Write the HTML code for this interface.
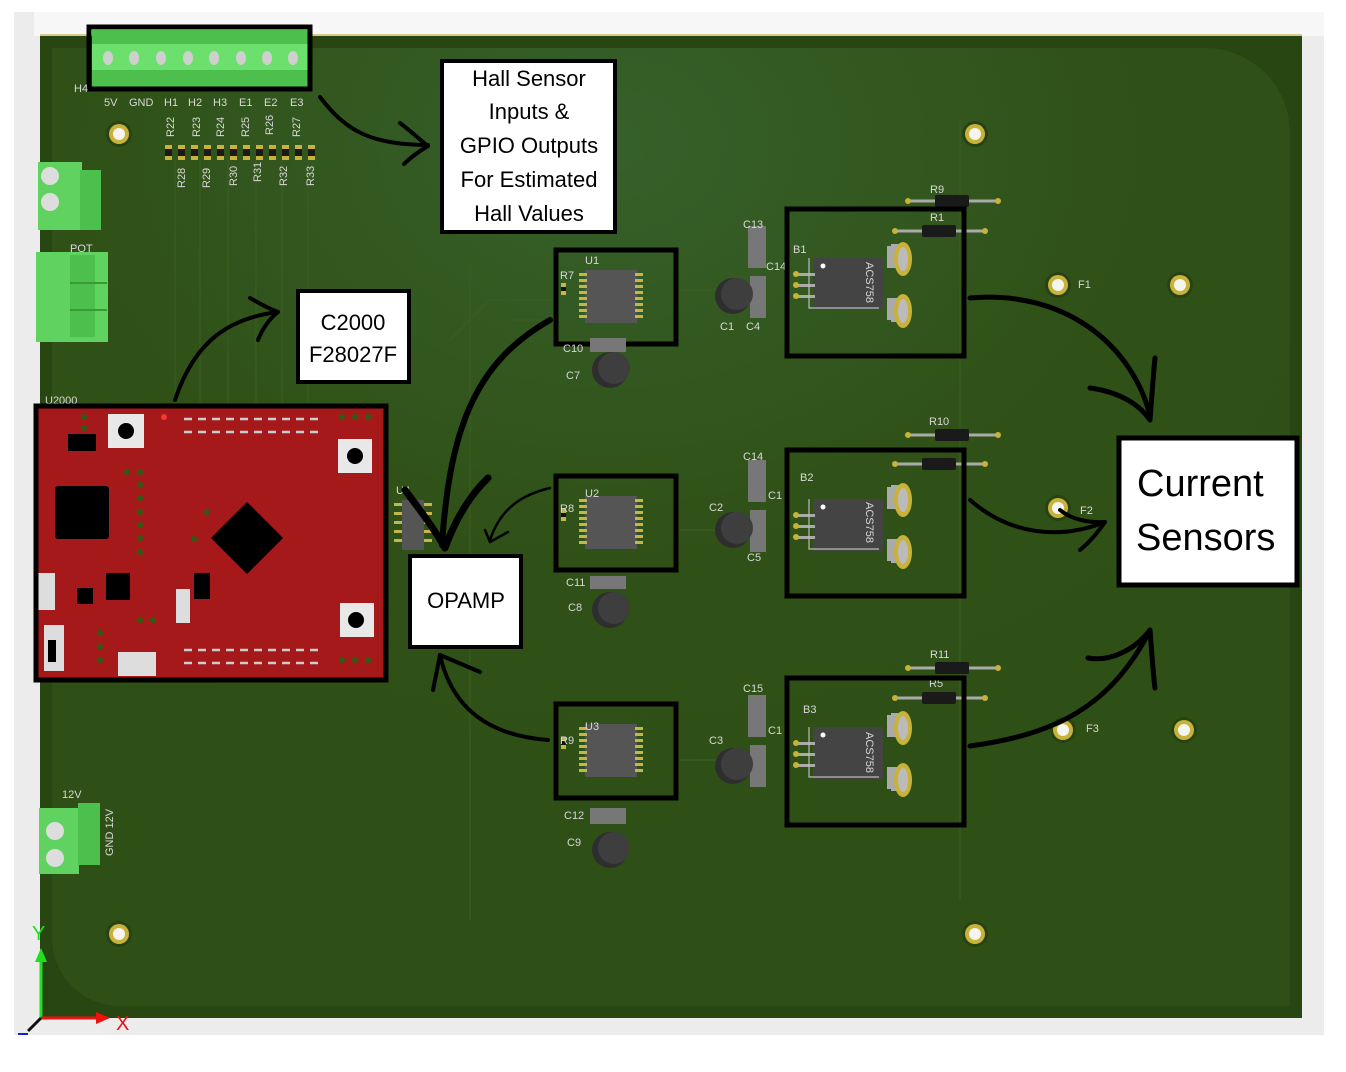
<!DOCTYPE html>
<html><head><meta charset="utf-8"><style>
html,body{margin:0;padding:0;background:#fff;}
svg{display:block;}
text{font-family:"Liberation Sans",sans-serif;}
.s{fill:#d8d8d8;font-size:11px;}
.b{fill:#000;}
</style></head><body>
<svg width="1346" height="1072" viewBox="0 0 1346 1072" xmlns="http://www.w3.org/2000/svg">
<defs>
<radialGradient id="bg" cx="0.45" cy="0.1" r="0.9">
<stop offset="0" stop-color="#36602a"/><stop offset="0.5" stop-color="#2f5016"/><stop offset="1" stop-color="#2e4f15"/>
</radialGradient>
<g id="hole"><circle r="13" fill="#284313"/><circle r="10" fill="#c9b23a"/><circle r="6" fill="#f4f4f0"/></g>
<g id="ic">
<rect x="30" y="21" width="52" height="53" fill="#555"/>
<g fill="#c8b54a">
<rect x="24" y="24" width="8" height="3"/><rect x="24" y="30" width="8" height="3"/><rect x="24" y="36" width="8" height="3"/><rect x="24" y="42" width="8" height="3"/><rect x="24" y="48" width="8" height="3"/><rect x="24" y="54" width="8" height="3"/><rect x="24" y="60" width="8" height="3"/><rect x="24" y="66" width="8" height="3"/>
<rect x="80" y="24" width="8" height="3"/><rect x="80" y="30" width="8" height="3"/><rect x="80" y="36" width="8" height="3"/><rect x="80" y="42" width="8" height="3"/><rect x="80" y="48" width="8" height="3"/><rect x="80" y="54" width="8" height="3"/><rect x="80" y="60" width="8" height="3"/><rect x="80" y="66" width="8" height="3"/>
</g>
<rect x="6" y="34" width="5" height="12" fill="#c8b54a"/><rect x="6" y="38" width="5" height="4" fill="#111"/>
</g>
<g id="sens">
<path d="M100 38 h20 v22 h-20z M100 90 h20 v22 h-20z" fill="#aaa"/>
<rect x="104" y="36" width="14" height="10" fill="#aaa"/><rect x="104" y="104" width="14" height="10" fill="#aaa"/>
<ellipse cx="116" cy="51" rx="9" ry="17" fill="#c9b23a"/><ellipse cx="116" cy="51" rx="5" ry="12" fill="#bbb"/>
<ellipse cx="116" cy="103" rx="9" ry="17" fill="#c9b23a"/><ellipse cx="116" cy="103" rx="5" ry="12" fill="#bbb"/>
<rect x="26" y="50" width="70" height="52" fill="#444"/>
<rect x="8" y="65" width="20" height="3" fill="#aaa"/><rect x="8" y="76" width="20" height="3" fill="#aaa"/><rect x="8" y="87" width="20" height="3" fill="#aaa"/>
<circle cx="9" cy="66" r="3" fill="#c9b23a"/><circle cx="9" cy="77" r="3" fill="#c9b23a"/><circle cx="9" cy="88" r="3" fill="#c9b23a"/>
<circle cx="36" cy="58" r="2.5" fill="#fff"/>
<path d="M22 50 v50 h70" fill="none" stroke="#bbb" stroke-width="1.2"/>
</g>
<g id="res"><line x1="0" y1="0" x2="90" y2="0" stroke="#aaa" stroke-width="3"/><circle cx="0" cy="0" r="3" fill="#c9b23a"/><circle cx="90" cy="0" r="3" fill="#c9b23a"/><rect x="27" y="-6" width="34" height="12" rx="2" fill="#1a1a1a"/></g>
<g id="cyl"><circle cx="0" cy="0" r="18" fill="#2e2e2e"/><circle cx="4" cy="-2" r="16" fill="#3e3e3e"/></g>
</defs>

<!-- frame -->
<rect x="14" y="10" width="1310" height="1025" fill="#ececec"/>
<rect x="0" y="0" width="1346" height="12" fill="#fff"/>
<rect x="34" y="12" width="1290" height="24" fill="#f7f7f7"/>
<rect x="40" y="34" width="1262" height="2" fill="#d8c98a"/>
<!-- board -->
<rect x="40" y="36" width="1262" height="982" fill="#274612"/>
<path d="M52 48 H1205 A85 85 0 0 1 1290 133 V1006 H120 A68 68 0 0 1 52 938 Z" fill="url(#bg)"/>

<!-- traces (subtle) -->
<g stroke="#3a5e22" stroke-width="1.5" fill="none" opacity="0.8">
<path d="M175 160 V430 M200 160 V430 M228 160 V430 M256 160 V430 M282 160 V430 M308 160 V430"/>
<path d="M555 300 H490 L450 340 M555 320 H510 M680 290 H740 M680 530 H740 M680 760 H740"/>
<path d="M960 120 V900 M470 260 V920"/>
</g>

<!-- top header connector -->
<rect x="92" y="30" width="217" height="58" fill="#6ce06c"/>
<g fill="#4cbf4c">
<rect x="92" y="30" width="217" height="14"/><rect x="92" y="70" width="217" height="18"/>
</g>
<g fill="#cfcfcf">
<ellipse cx="108" cy="58" rx="5" ry="7"/><ellipse cx="134" cy="58" rx="5" ry="7"/><ellipse cx="161" cy="58" rx="5" ry="7"/><ellipse cx="188" cy="58" rx="5" ry="7"/><ellipse cx="214" cy="58" rx="5" ry="7"/><ellipse cx="241" cy="58" rx="5" ry="7"/><ellipse cx="267" cy="58" rx="5" ry="7"/><ellipse cx="293" cy="58" rx="5" ry="7"/>
</g>
<rect x="89" y="27" width="221" height="62" fill="none" stroke="#000" stroke-width="5"/>
<text x="74" y="92" class="s" font-size="10">H4</text>
<text x="104" y="106" class="s">5V</text><text x="129" y="106" class="s">GND</text><text x="164" y="106" class="s">H1</text><text x="188" y="106" class="s">H2</text><text x="213" y="106" class="s">H3</text><text x="239" y="106" class="s">E1</text><text x="264" y="106" class="s">E2</text><text x="290" y="106" class="s">E3</text>
<g class="s" font-size="10">
<text transform="translate(174,137) rotate(-90)">R22</text><text transform="translate(200,137) rotate(-90)">R23</text><text transform="translate(224,137) rotate(-90)">R24</text><text transform="translate(249,137) rotate(-90)">R25</text><text transform="translate(273,135) rotate(-90)">R26</text><text transform="translate(300,137) rotate(-90)">R27</text>
<text transform="translate(185,188) rotate(-90)">R28</text><text transform="translate(210,188) rotate(-90)">R29</text><text transform="translate(237,186) rotate(-90)">R30</text><text transform="translate(261,182) rotate(-90)">R31</text><text transform="translate(287,186) rotate(-90)">R32</text><text transform="translate(314,186) rotate(-90)">R33</text>
</g>
<g fill="#c9b23a">
<rect x="165" y="145" width="7" height="15"/><rect x="178" y="145" width="7" height="15"/><rect x="191" y="145" width="7" height="15"/><rect x="204" y="145" width="7" height="15"/><rect x="217" y="145" width="7" height="15"/><rect x="230" y="145" width="7" height="15"/><rect x="243" y="145" width="7" height="15"/><rect x="256" y="145" width="7" height="15"/><rect x="269" y="145" width="7" height="15"/><rect x="282" y="145" width="7" height="15"/><rect x="295" y="145" width="7" height="15"/><rect x="308" y="145" width="7" height="15"/>
</g>
<g fill="#1a1a1a">
<rect x="165" y="149" width="7" height="7"/><rect x="178" y="149" width="7" height="7"/><rect x="191" y="149" width="7" height="7"/><rect x="204" y="149" width="7" height="7"/><rect x="217" y="149" width="7" height="7"/><rect x="230" y="149" width="7" height="7"/><rect x="243" y="149" width="7" height="7"/><rect x="256" y="149" width="7" height="7"/><rect x="269" y="149" width="7" height="7"/><rect x="282" y="149" width="7" height="7"/><rect x="295" y="149" width="7" height="7"/><rect x="308" y="149" width="7" height="7"/>
</g>

<!-- left terminal blocks -->
<rect x="38" y="162" width="44" height="68" fill="#5fd25f"/><rect x="80" y="170" width="21" height="60" fill="#4cbf4c"/>
<circle cx="50" cy="176" r="9" fill="#ddd"/><circle cx="50" cy="202" r="9" fill="#ddd"/>
<text x="70" y="252" class="s">POT</text>
<rect x="36" y="252" width="72" height="90" fill="#5fd25f"/><rect x="70" y="255" width="25" height="82" fill="#4cbf4c"/>
<line x1="70" y1="283" x2="107" y2="283" stroke="#3a9a3a" stroke-width="2"/><line x1="70" y1="310" x2="107" y2="310" stroke="#3a9a3a" stroke-width="2"/>
<text x="62" y="798" class="s">12V</text>
<rect x="39" y="808" width="40" height="66" fill="#5fd25f"/><rect x="78" y="803" width="22" height="62" fill="#4cbf4c"/>
<circle cx="55" cy="831" r="9" fill="#ddd"/><circle cx="55" cy="858" r="9" fill="#ddd"/>
<text transform="translate(113,856) rotate(-90)" class="s" font-size="10">GND 12V</text>

<!-- holes -->
<use href="#hole" x="119" y="134"/><use href="#hole" x="975" y="134"/><use href="#hole" x="119" y="934"/><use href="#hole" x="975" y="934"/>
<use href="#hole" x="1058" y="285"/><use href="#hole" x="1180" y="285"/><use href="#hole" x="1058" y="508"/><use href="#hole" x="1063" y="730"/><use href="#hole" x="1184" y="730"/>
<text x="1078" y="288" class="s">F1</text><text x="1080" y="514" class="s">F2</text><text x="1086" y="732" class="s">F3</text>

<!-- red launchpad -->
<text x="45" y="404" class="s" font-size="10">U2000</text>
<rect x="36" y="406" width="350" height="274" fill="#a5191a"/>
<rect x="55" y="486" width="54" height="53" rx="3" fill="#000"/>
<rect x="68" y="434" width="28" height="17" fill="#000"/>
<rect x="108" y="414" width="36" height="34" fill="#e8e8e8"/><circle cx="126" cy="431" r="8" fill="#000"/>
<rect x="338" y="439" width="34" height="34" fill="#e8e8e8"/><circle cx="355" cy="456" r="8" fill="#000"/>
<rect x="340" y="603" width="34" height="34" fill="#e8e8e8"/><circle cx="356" cy="620" r="8" fill="#000"/>
<path d="M247 502 L283 538 L247 574 L211 538 Z" fill="#000"/>
<rect x="106" y="573" width="24" height="27" fill="#000"/><rect x="194" y="573" width="16" height="26" fill="#000"/><rect x="77" y="588" width="16" height="16" fill="#000"/>
<rect x="38" y="573" width="17" height="37" fill="#ddd"/><rect x="176" y="589" width="14" height="34" fill="#ddd"/>
<rect x="44" y="625" width="20" height="46" fill="#ddd"/><rect x="48" y="640" width="8" height="22" fill="#000"/>
<rect x="118" y="652" width="38" height="24" fill="#ddd"/>
<g stroke="#ccc" stroke-width="2.5" stroke-dasharray="8 6"><line x1="184" y1="419" x2="320" y2="419"/><line x1="184" y1="432" x2="320" y2="432"/><line x1="184" y1="650" x2="320" y2="650"/><line x1="184" y1="663" x2="320" y2="663"/></g>
<g fill="#2e5a14">
<circle cx="84" cy="417" r="3"/><circle cx="84" cy="428" r="3"/><circle cx="127" cy="472" r="3"/><circle cx="140" cy="472" r="3"/><circle cx="140" cy="485" r="3"/><circle cx="140" cy="498" r="3"/><circle cx="140" cy="512" r="3"/><circle cx="140" cy="525" r="3"/><circle cx="140" cy="538" r="3"/><circle cx="140" cy="552" r="3"/><circle cx="207" cy="512" r="3"/><circle cx="194" cy="539" r="3"/>
<circle cx="342" cy="417" r="3"/><circle cx="355" cy="417" r="3"/><circle cx="368" cy="417" r="3"/><circle cx="342" cy="660" r="3"/><circle cx="355" cy="660" r="3"/><circle cx="368" cy="660" r="3"/><circle cx="140" cy="620" r="3"/><circle cx="153" cy="620" r="3"/><circle cx="100" cy="633" r="3"/><circle cx="100" cy="647" r="3"/><circle cx="100" cy="660" r="3"/>
</g>
<circle cx="164" cy="417" r="3" fill="#f33"/>
<rect x="36" y="406" width="350" height="274" fill="none" stroke="#000" stroke-width="5"/>

<!-- U4 opamp -->
<text x="396" y="494" class="s" font-size="10">U4</text>
<rect x="402" y="500" width="22" height="50" fill="#555"/>
<g fill="#c8b54a"><rect x="394" y="503" width="8" height="3"/><rect x="394" y="512" width="8" height="3"/><rect x="394" y="521" width="8" height="3"/><rect x="394" y="530" width="8" height="3"/><rect x="394" y="539" width="8" height="3"/><rect x="424" y="503" width="8" height="3"/><rect x="424" y="512" width="8" height="3"/><rect x="424" y="521" width="8" height="3"/><rect x="424" y="530" width="8" height="3"/><rect x="424" y="539" width="8" height="3"/></g>

<!-- U blocks -->
<use href="#ic" x="555" y="249"/><use href="#ic" x="555" y="475"/><use href="#ic" x="555" y="703"/>
<text x="585" y="264" class="s">U1</text><text x="560" y="279" class="s">R7</text>
<text x="585" y="497" class="s">U2</text><text x="560" y="512" class="s">R8</text>
<text x="585" y="730" class="s">U3</text><text x="560" y="744" class="s">R9</text>
<g fill="none" stroke="#000" stroke-width="5"><rect x="556" y="250" width="120" height="94"/><rect x="556" y="476" width="120" height="94"/><rect x="556" y="704" width="120" height="94"/></g>
<rect x="590" y="338" width="36" height="14" fill="#777"/><use href="#cyl" x="610" y="370"/><text x="563" y="352" class="s">C10</text><text x="566" y="379" class="s">C7</text>
<rect x="590" y="576" width="36" height="13" fill="#777"/><use href="#cyl" x="610" y="610"/><text x="566" y="586" class="s">C11</text><text x="568" y="611" class="s">C8</text>
<rect x="590" y="808" width="36" height="16" fill="#777"/><use href="#cyl" x="610" y="850"/><text x="564" y="819" class="s">C12</text><text x="567" y="846" class="s">C9</text>

<!-- sensor blocks -->
<use href="#sens" x="787" y="208"/><use href="#sens" x="787" y="449"/><use href="#sens" x="787" y="677"/>
<g class="s" font-size="9" fill="#bbb"><text transform="translate(866,262) rotate(90)">ACS758</text><text transform="translate(866,502) rotate(90)">ACS758</text><text transform="translate(866,732) rotate(90)">ACS758</text></g>
<text x="793" y="253" class="s">B1</text><text x="800" y="481" class="s">B2</text><text x="803" y="713" class="s">B3</text>
<use href="#res" x="908" y="201"/><use href="#res" x="895" y="231"/><use href="#res" x="908" y="435"/><use href="#res" x="895" y="464"/><use href="#res" x="908" y="668"/><use href="#res" x="895" y="698"/>
<text x="930" y="193" class="s">R9</text><text x="930" y="221" class="s">R1</text><text x="929" y="425" class="s">R10</text><text x="930" y="658" class="s">R11</text><text x="929" y="687" class="s">R5</text>
<g fill="#777"><rect x="748" y="226" width="18" height="42"/><rect x="750" y="276" width="16" height="42"/><rect x="748" y="460" width="18" height="42"/><rect x="750" y="510" width="16" height="42"/><rect x="748" y="695" width="18" height="42"/><rect x="750" y="745" width="16" height="42"/></g>
<use href="#cyl" x="733" y="296"/><use href="#cyl" x="733" y="530"/><use href="#cyl" x="733" y="766"/>
<text x="743" y="228" class="s">C13</text><text x="766" y="270" class="s">C14</text><text x="720" y="330" class="s">C1</text><text x="746" y="330" class="s">C4</text>
<text x="743" y="460" class="s">C14</text><text x="768" y="499" class="s">C1</text><text x="709" y="511" class="s">C2</text><text x="747" y="561" class="s">C5</text>
<text x="743" y="692" class="s">C15</text><text x="768" y="734" class="s">C1</text><text x="709" y="744" class="s">C3</text>
<g fill="none" stroke="#000" stroke-width="5"><rect x="787" y="209" width="177" height="147"/><rect x="787" y="450" width="177" height="146"/><rect x="787" y="678" width="177" height="147"/></g>

<!-- arrows -->
<g fill="none" stroke="#000" stroke-linecap="round" stroke-linejoin="round">
<path d="M320 97 C345 130 370 145 428 145" stroke-width="4"/>
<path d="M400 123 C412 132 420 140 428 146 C418 152 410 158 404 164" stroke-width="4"/>
<path d="M175 400 C195 340 230 318 278 312" stroke-width="4"/>
<path d="M250 298 C262 305 270 309 278 312 C268 320 262 330 258 340" stroke-width="4"/>
<path d="M550 320 C480 360 450 420 442 545" stroke-width="6"/>
<path d="M405 490 C420 510 435 530 445 548 C455 520 470 495 488 478" stroke-width="7"/>
<path d="M550 488 C520 495 500 510 490 540" stroke-width="2.5"/>
<path d="M485 530 L490 542 L508 532" stroke-width="2.5"/>
<path d="M548 740 C480 735 450 700 440 655" stroke-width="4"/>
<path d="M433 690 L440 655 L480 672" stroke-width="4"/>
<path d="M970 298 C1060 290 1130 340 1150 415" stroke-width="5"/>
<path d="M1090 388 C1120 392 1140 405 1150 420 C1152 395 1153 378 1155 358" stroke-width="5"/>
<path d="M970 500 C1010 535 1060 540 1105 522" stroke-width="4"/>
<path d="M1060 510 C1072 520 1090 523 1105 522 C1098 532 1090 542 1080 550" stroke-width="4"/>
<path d="M970 746 C1050 735 1110 710 1150 630" stroke-width="5"/>
<path d="M1088 658 C1110 662 1135 650 1150 630 C1152 655 1153 672 1155 688" stroke-width="5"/>
</g>

<!-- label boxes -->
<rect x="442" y="61" width="173" height="171" fill="#fff" stroke="#000" stroke-width="4"/>
<g font-size="22" text-anchor="middle" class="b"><text x="529" y="86">Hall Sensor</text><text x="529" y="119">Inputs &amp;</text><text x="529" y="153">GPIO Outputs</text><text x="529" y="187">For Estimated</text><text x="529" y="221">Hall Values</text></g>
<rect x="298" y="291" width="111" height="91" fill="#fff" stroke="#000" stroke-width="4"/>
<g font-size="22" text-anchor="middle" class="b"><text x="353" y="330">C2000</text><text x="353" y="362">F28027F</text></g>
<rect x="410" y="556" width="111" height="91" fill="#fff" stroke="#000" stroke-width="4"/>
<text x="466" y="608" font-size="22" text-anchor="middle" class="b">OPAMP</text>
<rect x="1119" y="438" width="178" height="147" fill="#fff" stroke="#000" stroke-width="5"/>
<g font-size="38" class="b"><text x="1137" y="496">Current</text><text x="1136" y="550">Sensors</text></g>

<!-- axes -->
<line x1="41" y1="1018" x2="41" y2="960" stroke="#1ee01e" stroke-width="3"/><path d="M35 962 L41 948 L47 962Z" fill="#1ee01e"/>
<text x="32" y="940" font-size="20" fill="#1ee01e">Y</text>
<line x1="41" y1="1018" x2="98" y2="1018" stroke="#f01010" stroke-width="3"/><path d="M96 1012 L110 1018 L96 1024Z" fill="#f01010"/>
<text x="116" y="1030" font-size="20" fill="#f01010">X</text>
<line x1="41" y1="1018" x2="28" y2="1031" stroke="#111" stroke-width="3"/><line x1="18" y1="1034" x2="28" y2="1034" stroke="#1020d0" stroke-width="2"/>
</svg>
</body></html>
